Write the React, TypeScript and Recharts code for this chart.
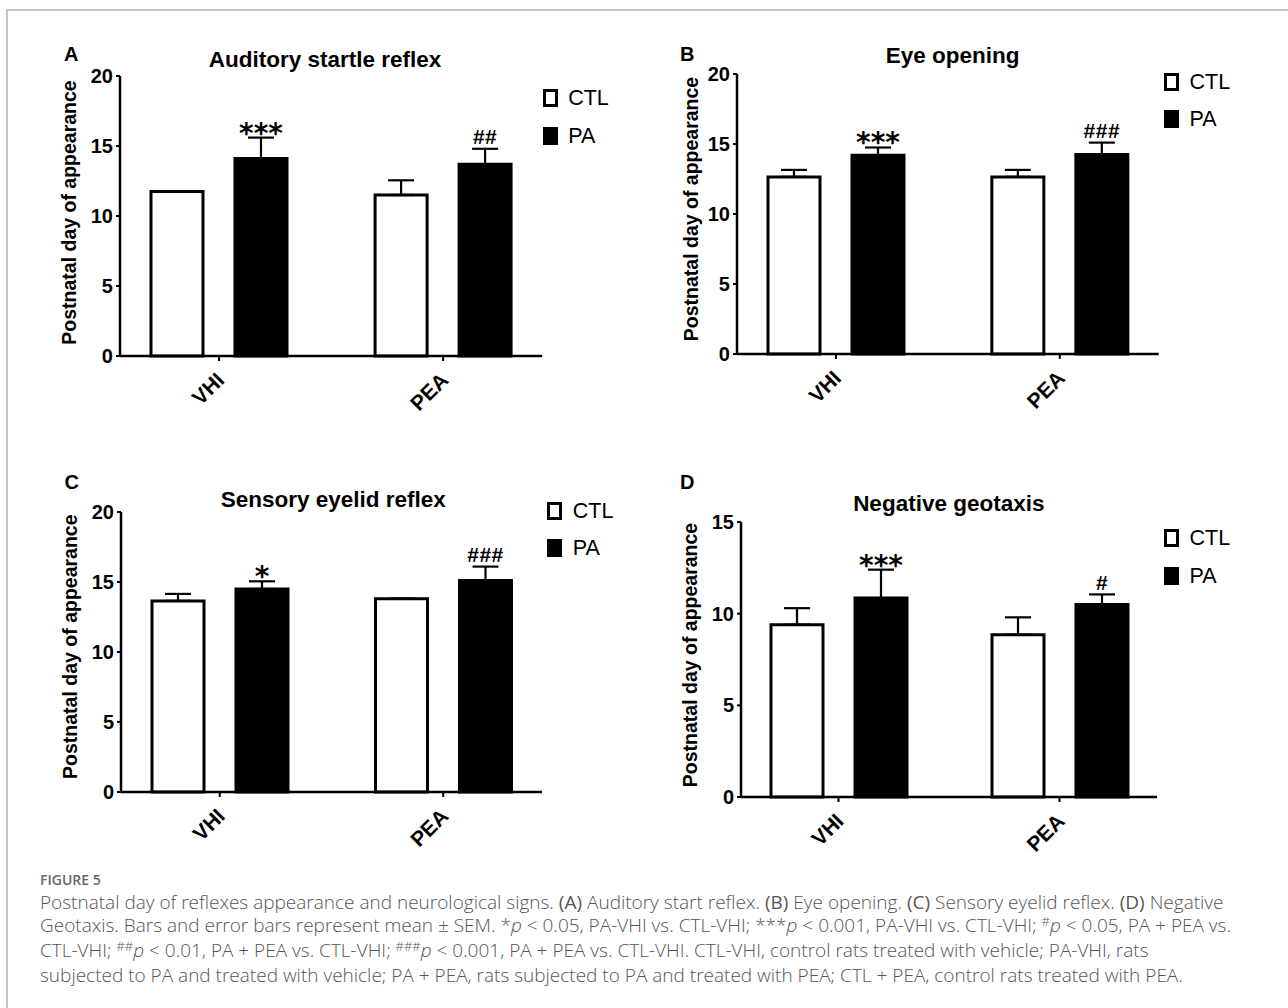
import React from "react";
import {
  BarChart,
  Bar,
  XAxis,
  YAxis,
  ErrorBar,
  LabelList,
  Legend,
} from "recharts";

const FONT = '"Liberation Sans", Arial, Helvetica, sans-serif';

// categories + series
const groups = ["VHI", "PEA"];
const seriesNames = ["CTL", "PA"];
const seriesFills = ["#ffffff", "#000000"];

// A - auditory startle reflex
const startleCtl = [11.75, 11.5];
const startleCtlSem = [0, 1.05];
const startlePa = [14.1, 13.7];
const startlePaSem = [1.5, 1.1];
const startleMarks = ["***", "##"];

// B - eye opening
const eyeCtl = [12.65, 12.65];
const eyeCtlSem = [0.5, 0.5];
const eyePa = [14.2, 14.25];
const eyePaSem = [0.55, 0.85];
const eyeMarks = ["***", "###"];

// C - sensory eyelid reflex
const eyelidCtl = [13.65, 13.8];
const eyelidCtlSem = [0.5, 0];
const eyelidPa = [14.5, 15.1];
const eyelidPaSem = [0.55, 1.0];
const eyelidMarks = ["*", "###"];

// D - negative geotaxis
const geoCtl = [9.4, 8.85];
const geoCtlSem = [0.9, 0.95];
const geoPa = [10.85, 10.5];
const geoPaSem = [1.55, 0.55];
const geoMarks = ["***", "#"];

const ticks20 = [0, 5, 10, 15, 20];
const ticks15 = [0, 5, 10, 15];

const panels = [
  {
    letter: "A",
    title: "Auditory startle reflex",
    ctl: startleCtl, ctlErr: startleCtlSem, pa: startlePa, paErr: startlePaSem, marks: startleMarks,
    yMax: 20, yTicks: ticks20,
    plot: { left: 119.5, top: 76, right: 541.7, bottom: 356 },
    letterPos: { x: 64, y: 61 },
    titlePos: { x: 325, y: 67.3 },
    yLabelPos: { x: 70.8, y: 212.5 },
    legendPos: { x: 542.7, y: 89.3 },
  },
  {
    letter: "B",
    title: "Eye opening",
    ctl: eyeCtl, ctlErr: eyeCtlSem, pa: eyePa, paErr: eyePaSem, marks: eyeMarks,
    yMax: 20, yTicks: ticks20,
    plot: { left: 737.3, top: 74.3, right: 1159, bottom: 354.3 },
    letterPos: { x: 680, y: 60.5 },
    titlePos: { x: 952.7, y: 62.7 },
    yLabelPos: { x: 693, y: 209 },
    legendPos: { x: 1164, y: 72.7 },
  },
  {
    letter: "C",
    title: "Sensory eyelid reflex",
    ctl: eyelidCtl, ctlErr: eyelidCtlSem, pa: eyelidPa, paErr: eyelidPaSem, marks: eyelidMarks,
    yMax: 20, yTicks: ticks20,
    plot: { left: 120.7, top: 511.7, right: 541.7, bottom: 791.7 },
    letterPos: { x: 64.5, y: 488.5 },
    titlePos: { x: 333.3, y: 506.7 },
    yLabelPos: { x: 72, y: 646.7 },
    legendPos: { x: 547.3, y: 501.7 },
  },
  {
    letter: "D",
    title: "Negative geotaxis",
    ctl: geoCtl, ctlErr: geoCtlSem, pa: geoPa, paErr: geoPaSem, marks: geoMarks,
    yMax: 15, yTicks: ticks15,
    plot: { left: 740.7, top: 521.7, right: 1156.7, bottom: 796.7 },
    letterPos: { x: 680, y: 488.5 },
    titlePos: { x: 948.8, y: 510.7 },
    yLabelPos: { x: 692, y: 655 },
    legendPos: { x: 1164, y: 529.3 },
  },
];

const Y_LABEL = "Postnatal day of appearance";

const RotTick = (props: any) => {
  const { x, y, payload } = props;
  const tx = x + 6.5;
  const ty = y + 18.5;
  return (
    <text
      x={tx}
      y={ty}
      transform={`rotate(-45, ${tx}, ${ty})`}
      textAnchor="end"
      fontSize={21}
      fontWeight={700}
      fontFamily={FONT}
      fill="#000"
    >
      {payload.value}
    </text>
  );
};

const markContent = (marks: string[], errs: number[], ppu: number) => (props: any) => {
  const vb = props.viewBox || {};
  const x = props.x ?? vb.x;
  const y = props.y ?? vb.y;
  const w = props.width ?? vb.width;
  const i = typeof props.index === "number" ? props.index : marks.indexOf(props.value);
  const capY = y - errs[i] * ppu;
  const star = String(props.value).includes("*");
  return (
    <text
      x={x + w / 2}
      y={star ? capY + 5 : capY - 4.5}
      textAnchor="middle"
      fontFamily={star ? '"DejaVu Sans", sans-serif' : FONT}
      fontWeight={700}
      fontSize={star ? 28 : 21}
      letterSpacing={star ? 0 : 0.5}
      fill="#000"
    >
      {props.value}
    </text>
  );
};

const LegendBox = () => (
  <div style={{ fontFamily: FONT }}>
    {seriesNames.map((name, i) => (
      <div
        key={name}
        style={{ display: "flex", alignItems: "center", height: 18, marginBottom: 19.5 }}
      >
        <div
          style={{
            width: 15,
            height: 18,
            boxSizing: "border-box",
            background: seriesFills[i],
            border: "3.5px solid #000",
          }}
        />
        <span style={{ marginLeft: 10.5, fontSize: 21.5, lineHeight: "18px", color: "#000" }}>
          {name}
        </span>
      </div>
    ))}
  </div>
);

const Panel = ({ cfg }: { cfg: any }) => {
  const { plot } = cfg;
  const boxLeft = plot.left - 60;
  const boxTop = plot.top - 30;
  const width = plot.right - plot.left + 60 + 90;
  const height = plot.bottom - plot.top + 30 + 60;
  const ppu = (plot.bottom - plot.top) / cfg.yMax;

  const data = groups.map((g, i) => ({
    group: g,
    ctl: cfg.ctl[i],
    ctlErr: [0, cfg.ctlErr[i]],
    pa: cfg.pa[i],
    paErr: [0, cfg.paErr[i]],
    mark: cfg.marks[i],
  }));

  return (
    <div style={{ position: "absolute", left: boxLeft, top: boxTop }}>
      <BarChart
        width={width}
        height={height}
        data={data}
        barGap={32}
        margin={{ top: 30, right: 90, bottom: 5, left: 5 }}
      >
        <XAxis
          dataKey="group"
          height={55}
          padding={{ left: -13, right: -13 }}
          interval={0}
          axisLine={{ stroke: "#000", strokeWidth: 2.5 }}
          tickLine={{ stroke: "#000", strokeWidth: 2 }}
          tickSize={5}
          tick={RotTick}
        />
        <YAxis
          type="number"
          width={55}
          domain={[0, cfg.yMax]}
          ticks={cfg.yTicks}
          interval={0}
          axisLine={{ stroke: "#000", strokeWidth: 2.5 }}
          tickLine={{ stroke: "#000", strokeWidth: 2 }}
          tickSize={4}
          tickMargin={3}
          tick={{ fill: "#000", fontSize: 20, fontWeight: 700, fontFamily: FONT }}
        />
        <Legend
          layout="vertical"
          align="center"
          verticalAlign="middle"
          wrapperStyle={{
            left: cfg.legendPos.x - boxLeft,
            top: cfg.legendPos.y - boxTop,
            width: 90,
            height: 80,
          }}
          content={() => <LegendBox />}
        />
        <Bar
          dataKey="ctl"
          name={seriesNames[0]}
          fill={seriesFills[0]}
          stroke="#000"
          strokeWidth={3}
          barSize={52}
          isAnimationActive={false}
        >
          <ErrorBar
            dataKey="ctlErr"
            direction="y"
            width={13}
            stroke="#000"
            strokeWidth={2.2}
            isAnimationActive={false}
          />
        </Bar>
        <Bar
          dataKey="pa"
          name={seriesNames[1]}
          fill={seriesFills[1]}
          stroke="#000"
          strokeWidth={3}
          barSize={52}
          isAnimationActive={false}
        >
          <ErrorBar
            dataKey="paErr"
            direction="y"
            width={13}
            stroke="#000"
            strokeWidth={2.2}
            isAnimationActive={false}
          />
          <LabelList dataKey="mark" content={markContent(cfg.marks, cfg.paErr, ppu)} />
        </Bar>
      </BarChart>
    </div>
  );
};

const sup = (s: string) => (
  <span style={{ fontSize: "0.68em", position: "relative", top: "-0.45em" }}>{s}</span>
);

export default function App() {
  return (
    <div
      style={{
        position: "absolute",
        left: 0,
        top: 0,
        width: 1288,
        height: 1008,
        background: "#fff",
        overflow: "hidden",
      }}
    >
      <div
        style={{
          position: "absolute",
          left: 6,
          top: 9,
          width: 1300,
          height: 1010,
          borderTop: "2px solid #c4c4c4",
          borderLeft: "2px solid #c4c4c4",
        }}
      />
      {panels.map((p) => (
        <Panel key={p.letter} cfg={p} />
      ))}
      <svg
        width={1288}
        height={860}
        style={{ position: "absolute", left: 0, top: 0, pointerEvents: "none" }}
      >
        {panels.map((p) => (
          <g key={p.letter} fontFamily={FONT} fontWeight={700} fill="#000">
            <text x={p.letterPos.x} y={p.letterPos.y} fontSize={20}>
              {p.letter}
            </text>
            <text x={p.titlePos.x} y={p.titlePos.y} fontSize={22.5} textAnchor="middle">
              {p.title}
            </text>
            <text
              x={p.yLabelPos.x + 5}
              y={p.yLabelPos.y}
              fontSize={19.5}
              textAnchor="middle"
              transform={`rotate(-90, ${p.yLabelPos.x + 5}, ${p.yLabelPos.y})`}
            >
              {Y_LABEL}
            </text>
          </g>
        ))}
      </svg>
      <div
        style={{
          position: "absolute",
          left: 40,
          top: 870,
          fontFamily: '"Open Sans", sans-serif',
          fontWeight: 600,
          fontSize: 14,
          color: "#666",
          whiteSpace: "nowrap",
        }}
      >
        FIGURE 5
      </div>
      <div
        style={{
          position: "absolute",
          left: 40,
          top: 891,
          fontFamily: '"Open Sans", sans-serif',
          fontWeight: 300,
          fontSize: 19,
          lineHeight: "23px",
          color: "#555",
          whiteSpace: "nowrap",
        }}
      >
        <div>
          Postnatal day of reflexes appearance and neurological signs. <b>(A)</b> Auditory start
          reflex. <b>(B)</b> Eye opening. <b>(C)</b> Sensory eyelid reflex. <b>(D)</b> Negative
        </div>
        <div>
          Geotaxis. Bars and error bars represent mean ± SEM. *<i>p</i> {"<"} 0.05, PA-VHI vs.
          CTL-VHI; ***<i>p</i> {"<"} 0.001, PA-VHI vs. CTL-VHI; {sup("#")}
          <i>p</i> {"<"} 0.05, PA + PEA vs.
        </div>
        <div>
          CTL-VHI; {sup("##")}
          <i>p</i> {"<"} 0.01, PA + PEA vs. CTL-VHI; {sup("###")}
          <i>p</i> {"<"} 0.001, PA + PEA vs. CTL-VHI. CTL-VHI, control rats treated with vehicle;
          PA-VHI, rats
        </div>
        <div>
          subjected to PA and treated with vehicle; PA + PEA, rats subjected to PA and treated
          with PEA; CTL + PEA, control rats treated with PEA.
        </div>
      </div>
    </div>
  );
}
